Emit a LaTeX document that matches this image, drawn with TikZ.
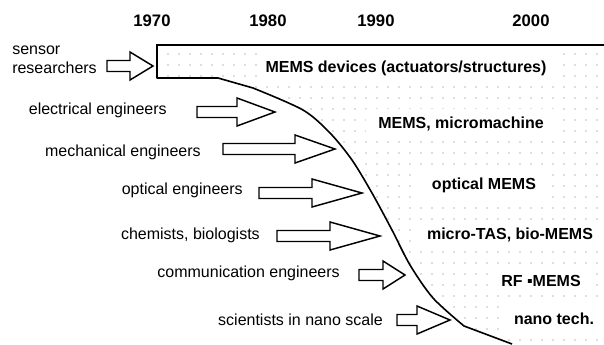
\documentclass[tikz,border=0pt]{standalone}
\usepackage{fontspec}
\setmainfont{Liberation Sans}
\usepackage{xcolor}
\definecolor{dotgray}{RGB}{110,110,110}
\usepackage{tikz}
\usetikzlibrary{positioning}

\begin{document}
\begin{tikzpicture}[x=0.75pt, y=-0.75pt,
  year/.style={font=\fontsize{12.5}{14}\selectfont\bfseries},
  who/.style={font=\fontsize{12}{14}\selectfont, anchor=east, inner sep=0pt},
  field/.style={font=\fontsize{12}{14}\selectfont\bfseries, fill=white, inner xsep=9pt, inner ysep=6pt},
  blockarrow/.style={draw=black, line width=1.1pt, fill=white, line join=miter}]
\useasboundingbox (0,0) rectangle (604,344);

\begin{scope}
  \clip (157,45) -- (604,45) -- (604,344) -- (512,344) -- (464,326)
    -- plot[smooth, tension=0.5] coordinates {(433,298) (410,265) (392,230) (372,193) (352,160) (330,133) (303,110) (253,88) (218,78)}
    -- (157,78) -- cycle;
  \foreach \i in {0,...,39}
    \foreach \j in {0,...,26}
      \fill[dotgray] (168+\i*11, 54+\j*11) circle[radius=0.55pt];
\end{scope}

\node[field, inner xsep=6pt] (devices) at (406,68) {MEMS devices (actuators/structures)};
\node[field] (micromachine) at (461,124) {MEMS, micromachine};
\node[field] (opticalmems) at (484,185) {optical MEMS};
\node[field] (biomems) at (510,235) {micro-TAS, bio-MEMS};
\node[field] (rfmems) at (541,281) {RF ▪MEMS};
\node[field] (nanotech) at (554,319) {nano tech.};

\draw[line width=2pt] (157,45) -- (604,45);
\draw[line width=1.2pt, line join=round] (157,44) -- (157,78) -- (218,78)
  -- plot[smooth, tension=0.5] coordinates {(253,88) (303,110) (330,133) (352,160) (372,193) (392,230) (410,265) (433,298) (464,326)}
  -- (512,344);

\foreach \yr/\xpos in {1970/152, 1980/268, 1990/376, 2000/531}
  \node[year] (year\yr) at (\xpos,21) {\yr};

\node[who, anchor=west, align=left] (sensor) at (12,60) {sensor\\researchers};
\draw[blockarrow] (107,60.5) -- (130,60.5) -- (130,52) -- (153,66) -- (130,80) -- (130,71.5) -- (107,71.5) -- cycle;

\foreach \lab/\xe/\ly/\xa/\xb/\xc/\ay [count=\i] in {
  {electrical engineers}/167/110/197/237/275/112,
  {mechanical engineers}/201/152/223/295/335/149,
  {optical engineers}/243/190/259/312/362/193,
  {chemists, biologists}/260/235/277/330/380/236,
  {communication engineers}/340/273/359/383/405/275,
  {scientists in nano scale}/383/320/397/417/450/320
}{
  \node[who] (who\i) at (\xe,\ly) {\lab};
  \draw[blockarrow] (\xa,\ay-5.5) -- (\xb,\ay-5.5) -- (\xb,\ay-14) -- (\xc,\ay)
    -- (\xb,\ay+14) -- (\xb,\ay+5.5) -- (\xa,\ay+5.5) -- cycle;
}
\end{tikzpicture}
\end{document}
